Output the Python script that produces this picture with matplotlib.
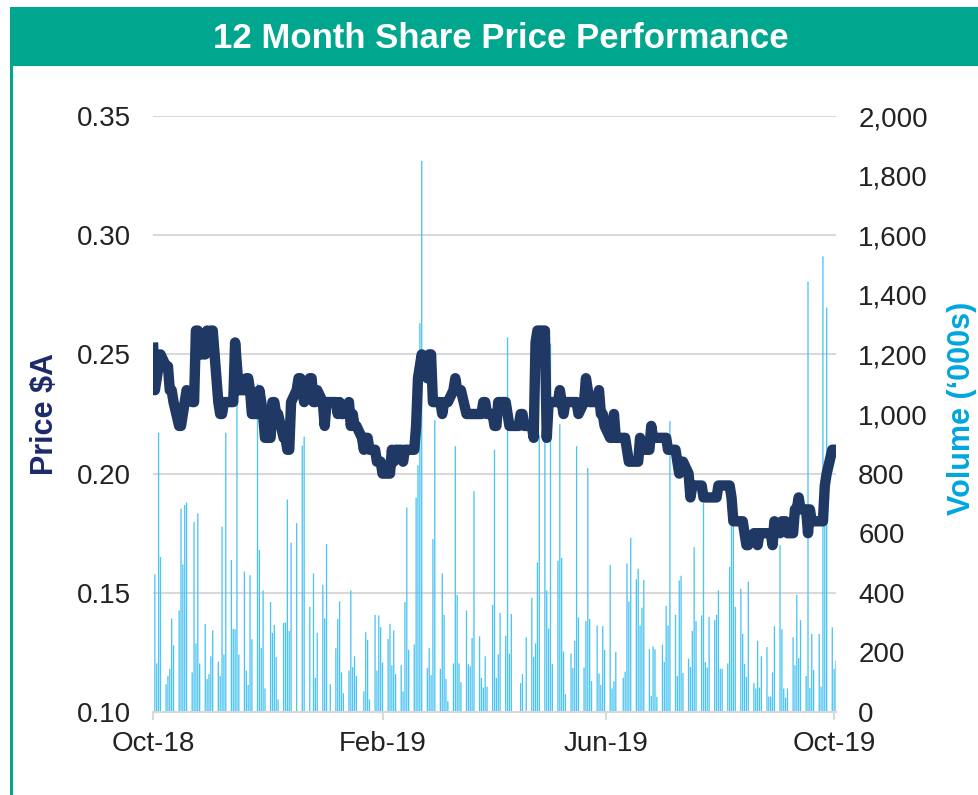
import matplotlib
matplotlib.use('Agg')
import matplotlib.pyplot as plt
import matplotlib.dates as mdates
from matplotlib.patches import Rectangle
from matplotlib.ticker import MultipleLocator, FuncFormatter, FormatStrFormatter
import pandas as pd

plt.rcParams['font.family'] = ['Liberation Sans', 'DejaVu Sans']

# Данные: дневные цены закрытия ($A) и объём торгов ('000s), торговые дни с 01.10.2018
start_date = '2018-10-01'

price = [
    0.255, 0.235, 0.24, 0.245, 0.25, 0.245, 0.245, 0.235, 0.235, 0.23,
    0.22, 0.22, 0.225, 0.23, 0.235, 0.23, 0.23, 0.26, 0.26, 0.25,
    0.25, 0.26, 0.255, 0.26, 0.26, 0.23, 0.225, 0.225, 0.23, 0.23,
    0.23, 0.23, 0.255, 0.245, 0.235, 0.235, 0.24, 0.24, 0.235, 0.225,
    0.225, 0.235, 0.23, 0.225, 0.215, 0.215, 0.23, 0.23, 0.225, 0.225,
    0.215, 0.215, 0.21, 0.21, 0.23, 0.235, 0.24, 0.24, 0.235, 0.23,
    0.24, 0.24, 0.23, 0.23, 0.235, 0.23, 0.22, 0.23, 0.23, 0.23,
    0.23, 0.225, 0.23, 0.225, 0.225, 0.23, 0.22, 0.225, 0.22, 0.22,
    0.215, 0.21, 0.215, 0.215, 0.21, 0.21, 0.205, 0.205, 0.205, 0.20,
    0.20, 0.20, 0.21, 0.205, 0.21, 0.21, 0.205, 0.21, 0.21, 0.21,
    0.21, 0.22, 0.24, 0.245, 0.25, 0.24, 0.25, 0.25, 0.23, 0.23,
    0.23, 0.225, 0.23, 0.23, 0.23, 0.235, 0.24, 0.235, 0.235, 0.235,
    0.225, 0.225, 0.225, 0.225, 0.225, 0.225, 0.225, 0.23, 0.23, 0.225,
    0.225, 0.22, 0.22, 0.23, 0.23, 0.23, 0.225, 0.22, 0.22, 0.22,
    0.22, 0.225, 0.225, 0.22, 0.22, 0.22, 0.215, 0.255, 0.26, 0.26,
    0.26, 0.215, 0.23, 0.23, 0.23, 0.23, 0.235, 0.23, 0.225, 0.23,
    0.23, 0.23, 0.23, 0.23, 0.225, 0.23, 0.24, 0.235, 0.23, 0.23,
    0.23, 0.235, 0.225, 0.225, 0.22, 0.215, 0.215, 0.225, 0.215, 0.215,
    0.215, 0.215, 0.21, 0.205, 0.205, 0.205, 0.205, 0.215, 0.21, 0.21,
    0.21, 0.22, 0.215, 0.215, 0.215, 0.215, 0.215, 0.215, 0.21, 0.21,
    0.21, 0.205, 0.20, 0.205, 0.205, 0.20, 0.19, 0.195, 0.195, 0.195,
    0.195, 0.19, 0.19, 0.19, 0.19, 0.19, 0.19, 0.195, 0.195, 0.195,
    0.195, 0.195, 0.19, 0.18, 0.18, 0.18, 0.18, 0.175, 0.17, 0.17,
    0.175, 0.175, 0.17, 0.175, 0.175, 0.175, 0.175, 0.175, 0.17, 0.18,
    0.175, 0.18, 0.18, 0.18, 0.175, 0.175, 0.185, 0.185, 0.19, 0.185,
    0.185, 0.175, 0.185, 0.18, 0.18, 0.18, 0.18, 0.18, 0.195, 0.20,
    0.21, 0.21, 0.21,
]

# объём по неделям (пн-пт)
volume = [
    0, 462, 163, 937, 520,
    93, 121, 145, 314, 224,
    341, 682, 495, 695, 703,
    133, 638, 230, 667, 163,
    296, 111, 127, 187, 274,
    169, 121, 622, 193, 937,
    510, 278, 278, 1033, 193,
    471, 139, 91, 459, 244,
    1102, 544, 215, 408, 79,
    369, 266, 292, 184, 42,
    300, 300, 713, 272, 568,
    634, 0, 0, 894, 924,
    353, 0, 465, 115, 266,
    427, 314, 564, 0, 93,
    214, 312, 371, 133, 63,
    139, 408, 151, 187, 121,
    0, 69, 268, 242, 42,
    326, 139, 324, 284, 166,
    245, 296, 157, 274, 127,
    157, 69, 369, 686, 209,
    227, 719, 828, 1305, 1849,
    147, 215, 124, 580, 979,
    145, 465, 326, 111, 36,
    163, 892, 393, 163, 100,
    341, 160, 153, 248, 741,
    254, 115, 82, 187, 85,
    359, 880, 115, 193, 332,
    256, 1257, 196, 329, 0,
    0, 97, 127, 0, 251,
    383, 185, 230, 502, 930,
    918, 408, 280, 1236, 161,
    508, 967, 517, 203, 60,
    196, 147, 239, 892, 318,
    149, 305, 819, 312, 104,
    290, 129, 91, 288, 208,
    493, 79, 103, 202, 0,
    115, 135, 498, 371, 585,
    445, 481, 290, 350, 443,
    211, 54, 220, 210, 51,
    226, 169, 356, 290, 976,
    326, 121, 441, 457, 131,
    179, 151, 272, 553, 305,
    324, 701, 167, 149, 319,
    308, 326, 408, 145, 145,
    163, 487, 633, 640, 353,
    413, 262, 161, 118, 437,
    97, 79, 239, 82, 187,
    218, 52, 52, 133, 288,
    560, 278, 79, 48, 79,
    251, 157, 393, 181, 308,
    121, 1444, 81, 262, 141,
    262, 85, 1529, 641, 1357,
    284, 145, 172,
]

title = '12 Month Share Price Performance'
price_label = 'Price $A'
volume_label = 'Volume (\u2018000s)'

TEAL = '#00A78E'
NAVY = '#1F3864'
LABEL_NAVY = '#1B2A6B'
BAR_BLUE = '#4CC4F2'
VOL_BLUE = '#00A6DE'
GRID = '#D9D9D9'
TEXT = '#222222'

W, H = 979, 795
dates = pd.bdate_range(start_date, periods=len(price))

fig = plt.figure(figsize=(W / 100, H / 100), dpi=100)

# Шапка с заголовком и зелёная рамка слева
fig.add_artist(Rectangle((10 / W, 1 - 66 / H), 1 - 10 / W, 59 / H,
                         transform=fig.transFigure, color=TEAL, lw=0))
fig.add_artist(Rectangle((10 / W, 0), 3 / W, 1 - 7 / H,
                         transform=fig.transFigure, color=TEAL, lw=0))
fig.text(501 / W, 1 - 38 / H, title, color='white', fontsize=25,
         fontweight='bold', ha='center', va='center')

# Объём (правая ось)
ax = fig.add_axes([153 / W, 1 - 712 / H, 683 / W, 596 / H])
ax.bar(dates, volume, width=0.7, color=BAR_BLUE, linewidth=0, zorder=2,
       snap=False)
ax.set_ylim(0, 2000)
ax.set_xlim(pd.Timestamp('2018-10-01'), pd.Timestamp('2019-10-02'))

# Цена (левая ось)
ax2 = ax.twinx()
ax2.plot(dates, price, color=NAVY, lw=7.5, solid_joinstyle='round',
         solid_capstyle='butt', zorder=3)
ax2.set_ylim(0.10, 0.35)

ax.yaxis.tick_right()
ax2.yaxis.tick_left()

ax.yaxis.set_major_locator(MultipleLocator(200))
ax.yaxis.set_minor_locator(MultipleLocator(400))
ax.yaxis.remove_overlapping_locs = False
ax.yaxis.set_major_formatter(FuncFormatter(lambda v, p: f'{int(v):,}'))
ax.grid(True, which='minor', axis='y', color=GRID, lw=1.5, zorder=0)
ax.set_axisbelow(True)
ax.tick_params(axis='y', which='both', length=0, pad=16, labelsize=20,
               labelcolor=TEXT)

ax2.yaxis.set_major_locator(MultipleLocator(0.05))
ax2.yaxis.set_major_formatter(FormatStrFormatter('%.2f'))
ax2.tick_params(axis='y', length=0, pad=16, labelsize=20, labelcolor=TEXT)

ax.xaxis.set_major_locator(mdates.MonthLocator(bymonth=[2, 6, 10]))
ax.xaxis.set_major_formatter(mdates.DateFormatter('%b-%y'))
ax.tick_params(axis='x', length=6, width=1.5, color=GRID, pad=8,
               labelsize=20, labelcolor=TEXT)

for s in ['top', 'left', 'right']:
    ax.spines[s].set_visible(False)
ax.spines['bottom'].set_color(GRID)
ax.spines['bottom'].set_linewidth(1.5)
for s in ax2.spines.values():
    s.set_visible(False)

fig.text(45.5 / W, 1 - 414 / H, price_label, rotation=90, color=LABEL_NAVY,
         fontsize=22, fontweight='bold', ha='center', va='center')
fig.text(962 / W, 1 - 408 / H, volume_label, rotation=90, color=VOL_BLUE,
         fontsize=22, fontweight='bold', ha='center', va='center')

fig.savefig('out.png', dpi=100)
